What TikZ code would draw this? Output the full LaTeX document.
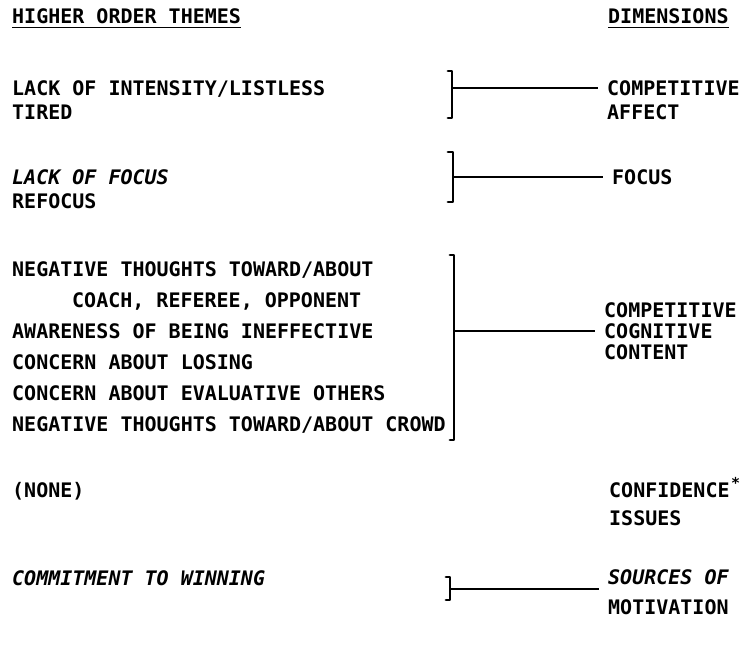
\documentclass[tikz,border=0pt]{standalone}
\usepackage{fontspec}
\setmainfont{DejaVu Sans Mono}
\begin{document}
\begin{tikzpicture}[x=1pt,y=-1pt,
  txt/.style={anchor=base west,inner sep=0pt,font=\fontsize{20}{20}\selectfont\bfseries},
  slnt/.style={txt,font=\fontsize{20}{20}\selectfont\bfseries\itshape},
  brk/.style={line width=2.8pt,line cap=round,line join=round},
  link/.style={line width=2.5pt,shorten >=9pt}]
\useasboundingbox (0,0) rectangle (744,646);

% column headings
\node[txt] (hot) at (12,23) {HIGHER ORDER THEMES};
\node[txt] (dim) at (608,23) {DIMENSIONS};
\draw[line width=1.8pt] (hot.south west) ++(0,4) -- ++(229,0);
\draw[line width=1.8pt] (dim.south west) ++(0,4) -- ++(121,0);

% themes
\node[txt]  (t1) at (12,95)  {LACK OF INTENSITY/LISTLESS};
\node[txt]  (t2) at (12,119) {TIRED};
\node[slnt] (t3) at (12,184) {LACK OF FOCUS};
\node[txt]  (t4) at (12,208) {REFOCUS};
\node[txt]  (t5) at (12,276) {NEGATIVE THOUGHTS TOWARD/ABOUT};
\node[txt]  (t6) at (72,307) {COACH, REFEREE, OPPONENT};
\node[txt]  (t7) at (12,338) {AWARENESS OF BEING INEFFECTIVE};
\node[txt]  (t8) at (12,369) {CONCERN ABOUT LOSING};
\node[txt]  (t9) at (12,400) {CONCERN ABOUT EVALUATIVE OTHERS};
\node[txt]  (t10) at (12,431) {NEGATIVE THOUGHTS TOWARD/ABOUT CROWD};
\node[txt]  (t11) at (12,497) {(NONE)};
\node[slnt] (t12) at (12,585) {COMMITMENT TO WINNING};

% dimensions
\node[txt]  (d1a) at (607,95)  {COMPETITIVE};
\node[txt]  (d1b) at (607,119) {AFFECT};
\node[txt]  (d2)  at (612,184) {FOCUS};
\node[txt]  (d3a) at (604,317) {COMPETITIVE};
\node[txt]  (d3b) at (604,338) {COGNITIVE};
\node[txt]  (d3c) at (604,359) {CONTENT};
\node[txt]  (d4a) at (609,497) {CONFIDENCE};
\node[txt,font=\fontsize{15}{15}\selectfont\bfseries] (star) at (d4a.base east) [xshift=1pt,yshift=9pt] {*};
\node[txt]  (d4b) at (609,525) {ISSUES};
\node[slnt] (d5a) at (608,584) {SOURCES OF};
\node[txt]  (d5b) at (608,614) {MOTIVATION};

% brackets grouping the themes
\coordinate (b1) at (452,88);
\draw[brk] (448,71) -- (452,71) -- (452,118) -- (448,118);
\coordinate (b2) at (453,177);
\draw[brk] (448,152) -- (453,152) -- (453,202) -- (448,202);
\coordinate (b3) at (454,331);
\draw[brk] (450,255) -- (454,255) -- (454,440) -- (450,440);
\coordinate (b4) at (450,589);
\draw[brk] (446,577) -- (450,577) -- (450,600) -- (446,600);

% links from each bracket to its dimension
\draw[link] (b1) -- (b1 -| d1a.west);
\draw[link] (b2) -- (b2 -| d2.west);
\draw[link] (b3) -- (b3 -| d3b.west);
\draw[link] (b4) -- (b4 -| d5a.west);
\end{tikzpicture}
\end{document}
